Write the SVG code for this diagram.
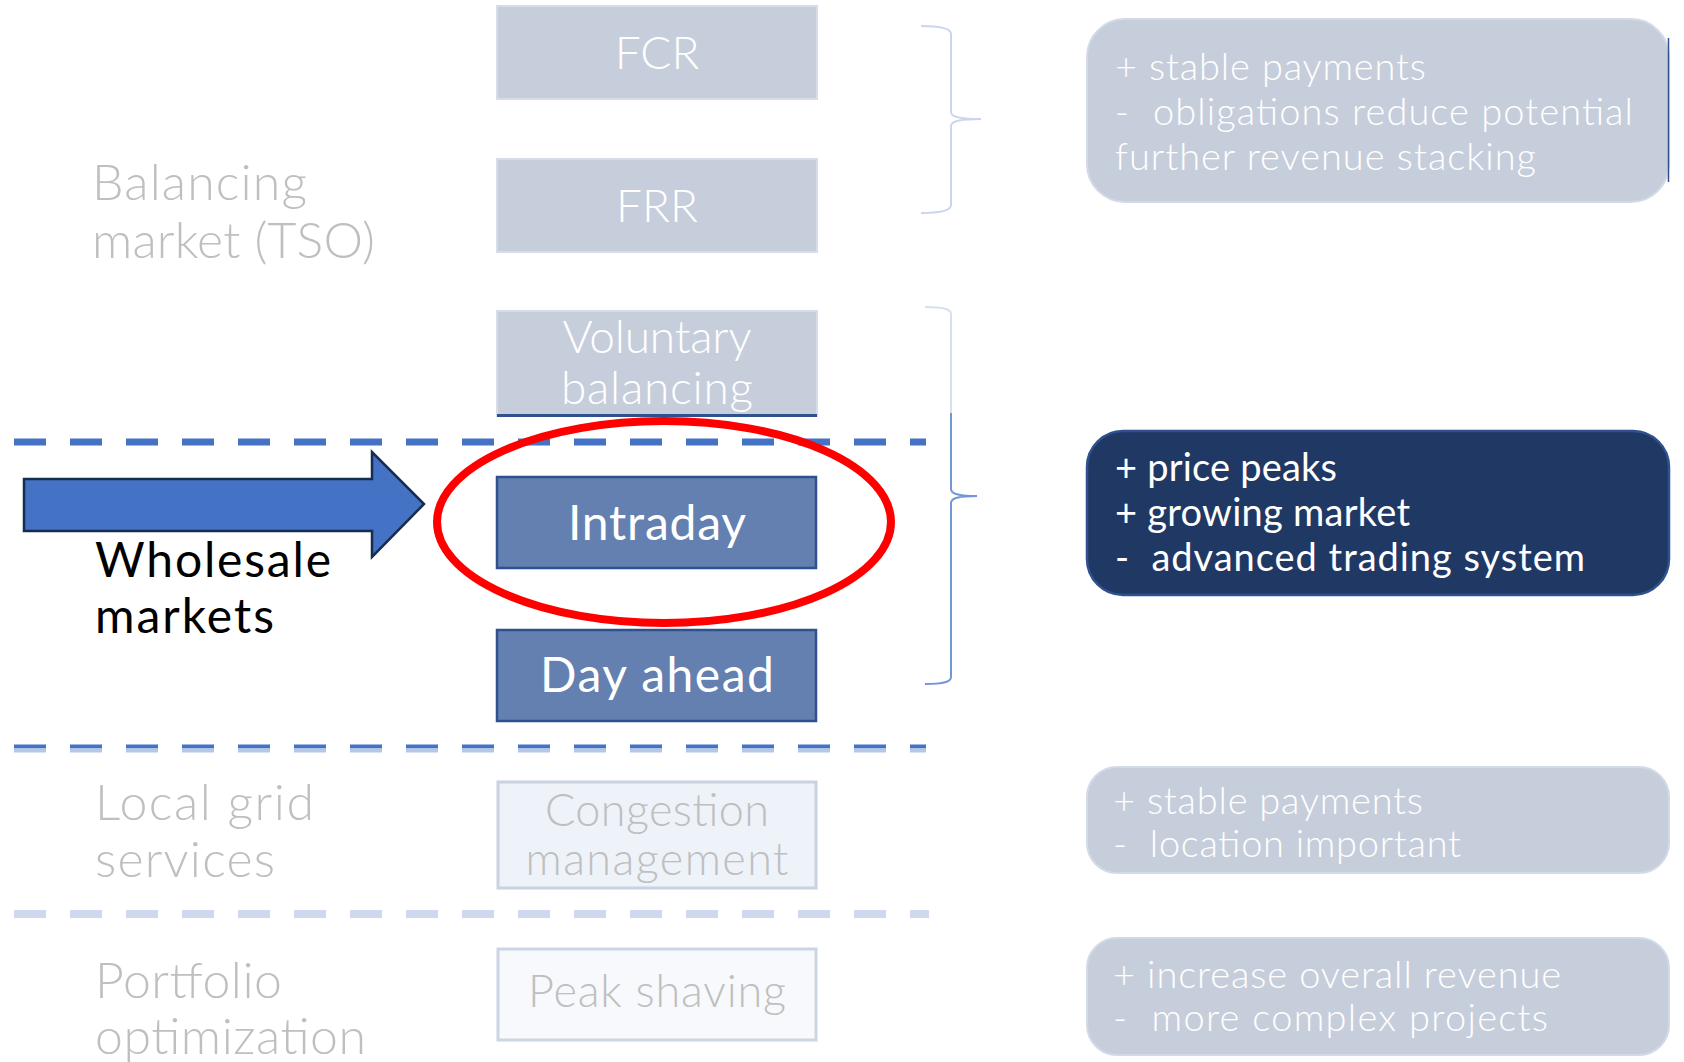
<svg xmlns="http://www.w3.org/2000/svg" width="1684" height="1062" viewBox="0 0 1684 1062">
<style>
text{font-family:Lato,"Open Sans","Liberation Sans",sans-serif;white-space:pre}
.lbl{font-size:50px;fill:#bfbfbf;font-weight:300}
.blk{font-size:48px;fill:#000000;font-weight:400}
.bx{font-size:46px;fill:#ffffff;font-weight:300;text-anchor:middle}
.bxg{font-size:45px;fill:#bfbfbf;font-weight:300;text-anchor:middle}
.bxw{font-size:48px;fill:#ffffff;font-weight:400;text-anchor:middle}
.rt{font-size:38px;fill:#ffffff;font-weight:300}
.rtd{font-size:38px;fill:#ffffff;font-weight:400}
.lightbox{fill:#c7cedb;stroke:#d6dce8;stroke-width:2}
.bluebox{fill:#6480b0;stroke:#2f528f;stroke-width:2.5}
.dash{fill:none;stroke-dasharray:32 24}
.brace{fill:none;stroke-width:2}
</style>
<defs>
<linearGradient id="braceGrad" gradientUnits="userSpaceOnUse" x1="0" y1="300" x2="0" y2="690">
<stop offset="0" stop-color="#d6e0f0"/>
<stop offset="0.29" stop-color="#d6e0f0"/>
<stop offset="0.29" stop-color="#7396d6"/>
<stop offset="1" stop-color="#7396d6"/>
</linearGradient>
</defs>
<rect width="1684" height="1062" fill="#ffffff"/>

<g id="separators">
<line class="dash" x1="14" y1="442" x2="926" y2="442" stroke="#4472c4" stroke-width="7"/>
<line class="dash" x1="14" y1="746.5" x2="926" y2="746.5" stroke="#4472c4" stroke-width="4"/>
<line class="dash" x1="14" y1="750.5" x2="926" y2="750.5" stroke="#b4c7e7" stroke-width="4"/>
<line class="dash" x1="14" y1="914" x2="929" y2="914" stroke="#cfd9ed" stroke-width="8"/>
</g>

<g id="label-balancing">
<text class="lbl" x="92" y="200" textLength="215">Balancing</text>
<text class="lbl" x="92" y="258" textLength="283">market (TSO)</text>
</g>
<g id="label-wholesale">
<text class="blk" x="95" y="577" textLength="236">Wholesale</text>
<text class="blk" x="95" y="633" textLength="179">markets</text>
</g>
<g id="label-local">
<text class="lbl" x="95" y="820" textLength="219">Local grid</text>
<text class="lbl" x="95" y="877" textLength="180">services</text>
</g>
<g id="label-portfolio">
<text class="lbl" x="95" y="998" textLength="187">Portfolio</text>
<text class="lbl" x="95" y="1054" textLength="271">optimization</text>
</g>

<g id="node-fcr">
<rect class="lightbox" x="497" y="6" width="320" height="93"/>
<text class="bx" x="657" y="69">FCR</text>
</g>
<g id="node-frr">
<rect class="lightbox" x="497" y="159" width="320" height="93"/>
<text class="bx" x="657" y="222">FRR</text>
</g>
<g id="node-voluntary">
<rect class="lightbox" x="497" y="311" width="320" height="105"/>
<line x1="497" y1="415.5" x2="817" y2="415.5" stroke="#2f528f" stroke-width="3"/>
<text class="bx" x="657" y="353" font-size="40" textLength="189">Voluntary</text>
<text class="bx" x="657" y="404" font-size="40" textLength="192">balancing</text>
</g>
<g id="node-intraday">
<rect class="bluebox" x="497" y="477" width="319" height="91"/>
<text class="bxw" x="657" y="540" textLength="178">Intraday</text>
</g>
<g id="node-dayahead">
<rect class="bluebox" x="497" y="630" width="319" height="91"/>
<text class="bxw" x="657" y="692" textLength="234">Day ahead</text>
</g>
<g id="node-congestion">
<rect x="498" y="782" width="318" height="106" fill="#eef2f9" stroke="#c9d2e2" stroke-width="3"/>
<text class="bxg" x="657" y="826" textLength="224">Congestion</text>
<text class="bxg" x="657" y="875" textLength="263">management</text>
</g>
<g id="node-peak">
<rect x="498" y="949" width="318" height="91" fill="#f7f9fc" stroke="#ccd5e5" stroke-width="3"/>
<text class="bxg" x="657" y="1007" textLength="258">Peak shaving</text>
</g>

<g id="highlight">
<ellipse cx="664" cy="522" rx="227" ry="101" fill="none" stroke="#ff0000" stroke-width="8"/>
</g>

<g id="connectors">
<path class="brace" stroke="#c9d6ee" d="M921,26 C940,26 951,28 951,34 L951,112 C951,117 960,119 981,119 C960,119 951,121 951,126 L951,205 C951,211 940,213 921,213"/>
<path class="brace" stroke="url(#braceGrad)" d="M925,307 C944,307 951,309 951,314 L951,489 C951,494 958,496 977,496 C958,496 951,498 951,503 L951,677 C951,682 944,684 925,684"/>
<path d="M24,479 L372,479 L372,452 L424,504 L372,557 L372,531 L24,531 Z" fill="#4472c4" stroke="#172c51" stroke-width="2.5" stroke-linejoin="miter"/>
</g>

<g id="info-balancing">
<rect x="1087" y="19" width="582" height="183" rx="38" fill="#c7cedb" stroke="#d3dae7" stroke-width="2"/>
<line x1="1668.5" y1="38" x2="1668.5" y2="182" stroke="#2f528f" stroke-width="1.5"/>
<text class="rt" x="1115" y="80" textLength="311">+ stable payments</text>
<text class="rt" x="1115" y="125" textLength="518">-  obligations reduce potential</text>
<text class="rt" x="1115" y="170" textLength="421">further revenue stacking</text>
</g>
<g id="info-wholesale">
<rect x="1087" y="431" width="582" height="164" rx="36" fill="#203864" stroke="#2f528f" stroke-width="2.5"/>
<text class="rtd" x="1115" y="481" textLength="222">+ price peaks</text>
<text class="rtd" x="1115" y="526" textLength="295">+ growing market</text>
<text class="rtd" x="1115" y="571" textLength="470">-  advanced trading system</text>
</g>
<g id="info-local">
<rect x="1087" y="767" width="582" height="106" rx="30" fill="#c7cedb" stroke="#d3dae7" stroke-width="2"/>
<text class="rt" x="1113" y="814" font-size="37" textLength="310">+ stable payments</text>
<text class="rt" x="1113" y="857" font-size="37" textLength="348">-  location important</text>
</g>
<g id="info-portfolio">
<rect x="1087" y="938" width="582" height="117" rx="30" fill="#c7cedb" stroke="#d3dae7" stroke-width="2"/>
<text class="rt" x="1113" y="988" textLength="448">+ increase overall revenue</text>
<text class="rt" x="1113" y="1031" textLength="435">-  more complex projects</text>
</g>
</svg>
